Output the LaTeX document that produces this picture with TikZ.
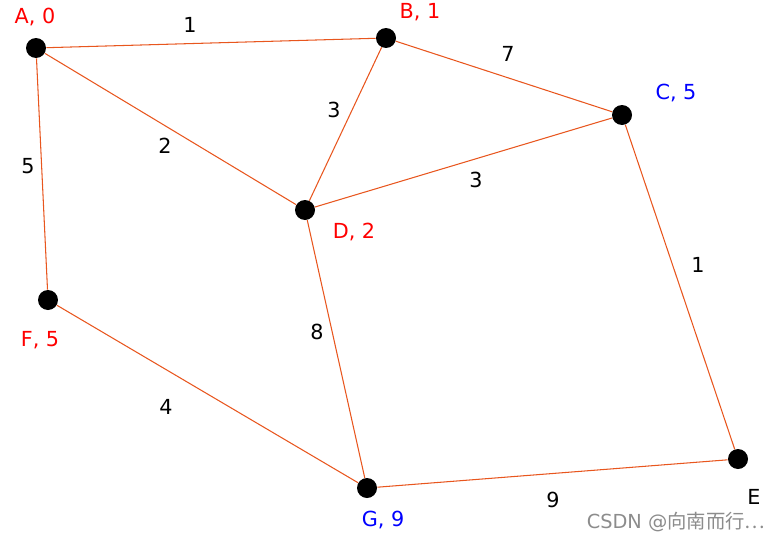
\documentclass[tikz,border=0pt]{standalone}
\usepackage{fontspec}
\setmainfont{DejaVu Sans}
\newfontfamily\cjkfont{Noto Sans CJK SC}
\usepackage{tikz}
\usetikzlibrary{arrows.meta, positioning}
\definecolor{edgeline}{HTML}{E8561E}
\definecolor{markgray}{HTML}{8C8C8C}

\begin{document}
\begin{tikzpicture}[x=0.02cm, y=-0.02cm, font=\fontsize{11.8}{13}\selectfont,
    vertex/.style={circle, fill=black, inner sep=0pt, minimum size=0.4cm},
    road/.style={edgeline, line width=0.6pt},
    cost/.style={black}]
  \useasboundingbox (0,0) rectangle (783,541);

  % Knoten
  \node[vertex] (A) at (36,48) {};
  \node[vertex] (B) at (386,38) {};
  \node[vertex] (C) at (622,115) {};
  \node[vertex] (D) at (305,210) {};
  \node[vertex] (E) at (738,459) {};
  \node[vertex] (F) at (48,300) {};
  \node[vertex] (G) at (367,488) {};

  % Beschriftung der Knoten
  \node[red]  (lA) at (35,17)  {A, 0};
  \node[red]  (lB) at (420,12) {B, 1};
  \node[blue] (lC) at (676,93) {C, 5};
  \node[red]  (lD) at (354,232) {D, 2};
  \node       (lE) at (754,497) {E};
  \node[red]  (lF) at (40,340) {F, 5};
  \node[blue] (lG) at (383,520) {G, 9};

  % Kanten
  \draw[road] (A) -- (B);
  \draw[road] (B) -- (C);
  \draw[road] (A) -- (D);
  \draw[road] (B) -- (D);
  \draw[road] (D) -- (C);
  \draw[road] (A) -- (F);
  \draw[road] (C) -- (E);
  \draw[road] (D) -- (G);
  \draw[road] (F) -- (G);
  \draw[road] (G) -- (E);

  % Gewichte
  \node[cost] (wAB) at (190,25)  {1};
  \node[cost] (wBC) at (508,54)  {7};
  \node[cost] (wAD) at (165,146) {2};
  \node[cost] (wBD) at (334,110) {3};
  \node[cost] (wDC) at (476,180) {3};
  \node[cost] (wAF) at (28,166)  {5};
  \node[cost] (wCE) at (698,265) {1};
  \node[cost] (wDG) at (317,332) {8};
  \node[cost] (wFG) at (166,407) {4};
  \node[cost] (wGE) at (553,500) {9};

  \node[markgray, font=\fontsize{11}{12}\selectfont] (mark) at (676,522) {CSDN @{\cjkfont 向南而行…}};
\end{tikzpicture}
\end{document}
